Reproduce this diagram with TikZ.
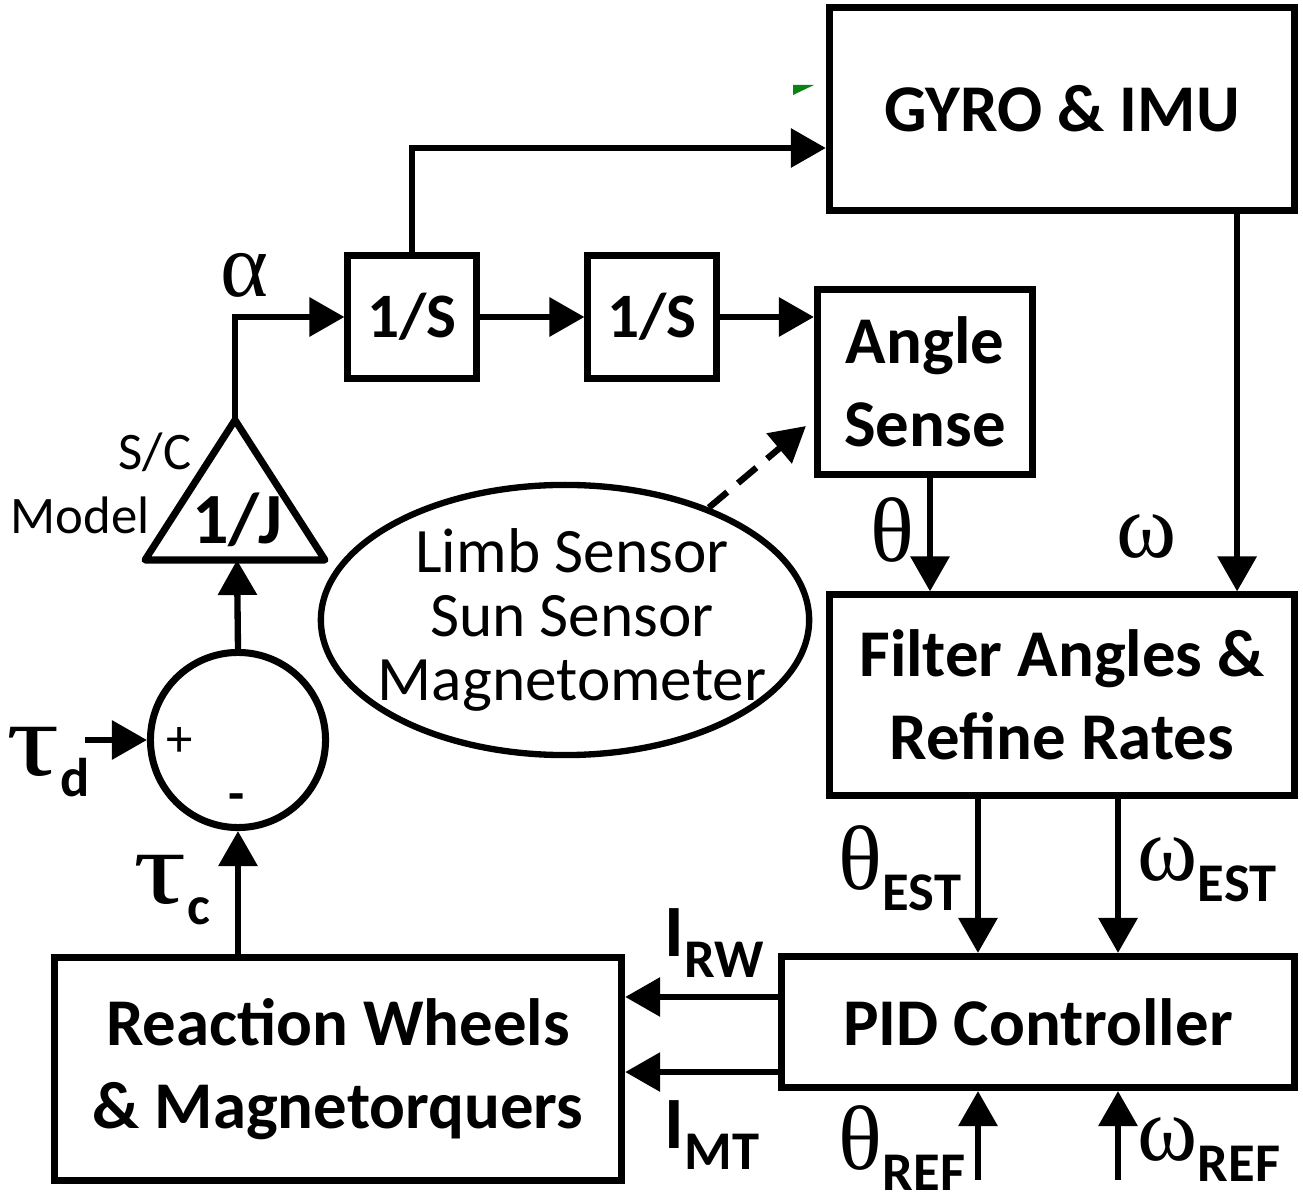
\documentclass[tikz,border=0pt]{standalone}
\usepackage{fontspec}
\setmainfont{Carlito}
\newfontfamily\greekfont{Liberation Serif}
\usetikzlibrary{arrows.meta, positioning, calc, shapes.geometric}
\definecolor{markgreen}{RGB}{10,130,20}

\newcommand{\gsym}[1]{{\fontsize{26}{26}\selectfont\greekfont #1}}
\newcommand{\gtau}{{\fontsize{26}{26}\selectfont\greekfont\scalebox{1.45}[1.15]{τ}}}
\newcommand{\lowsub}[1]{\raisebox{-6pt}{\fontsize{15.5}{15.5}\selectfont\bfseries #1}}

\begin{document}
\begin{tikzpicture}[x=0.01cm, y=-0.01cm,
  blk/.style={draw, line width=2pt, font=\fontsize{19}{23.5}\selectfont\bfseries, align=center, inner sep=0pt},
  arr/.style={line width=1.8pt, -{Triangle[length=0.35cm, width=0.38cm]}},
  lbl/.style={inner sep=0pt}]
  \useasboundingbox (0,0) rectangle (1303,1201);

  % Blocks
  \node[blk, minimum width=4.65cm, minimum height=2.02cm] (gyro) at (1062,109) {GYRO \& IMU};
  \node[blk, minimum width=1.28cm, minimum height=1.23cm, font=\fontsize{18}{18}\selectfont\bfseries] (int1) at (412,317) {1/S};
  \node[blk, minimum width=1.28cm, minimum height=1.23cm, font=\fontsize{18}{18}\selectfont\bfseries] (int2) at (652,317) {1/S};
  \node[blk, minimum width=2.15cm, minimum height=1.85cm] (ang) at (925,382) {Angle\\Sense};
  \node[blk, minimum width=4.65cm, minimum height=2.00cm] (filt) at (1062,695) {Filter Angles \&\\Refine Rates};
  \node[blk, minimum width=5.13cm, minimum height=1.31cm] (pid) at (1038,1022) {PID Controller};
  \node[blk, minimum width=5.67cm, minimum height=2.22cm] (act) at (338,1069) {Reaction Wheels\\\& Magnetorquers};

  % S/C model gain
  \coordinate (jtop) at (235,420);
  \coordinate (jbase) at (237,560);
  \draw[line width=2pt, line join=round] (145,560) -- (jtop) -- (325,560) -- cycle;
  \node[lbl, font=\fontsize{20.5}{20.5}\selectfont\bfseries] (gain) at (237,520) {1/J};
  \node[lbl, font=\fontsize{15}{15}\selectfont] (scl) at (155,452) {S/C};
  \node[lbl, font=\fontsize{15}{15}\selectfont] (model) at (80,515) {Model};

  % Summing junction
  \node[draw, circle, line width=2pt, minimum size=1.75cm, inner sep=0pt] (sum) at (238,740) {};
  \node[lbl, font=\fontsize{15}{15}\selectfont] (plus) at (180,742) {+};
  \node[lbl, font=\fontsize{15}{15}\selectfont\bfseries] (minus) at (237,803) {-};

  % Sensors
  \node[draw, ellipse, line width=1.8pt, minimum width=4.88cm, minimum height=2.70cm] (sens) at (565,620) {};
  \node[lbl, align=center, font=\fontsize{18}{18.3}\selectfont] (senstxt) at (572,620) {Limb Sensor\\Sun Sensor\\Magnetometer};
  \fill[markgreen] (793,85) -- (814,85) -- (793,95) -- cycle;

  % Connectors
  \draw[arr] (jtop) |- (int1.west);
  \draw[arr] (int1) -- (int2);
  \draw[arr] (int2.east) -- (int2.east -| ang.west);
  \draw[arr] (int1.north) |- ([yshift=-0.39cm]gyro.west);
  \draw[arr, dash pattern=on 0.24cm off 0.14cm] (sens.38) -- ([xshift=-0.08cm, yshift=-0.44cm]ang.west);
  \draw[arr] ([xshift=0.05cm]ang.south) -- ([xshift=0.05cm]ang.south |- filt.north);
  \draw[arr] ([xshift=1.75cm]gyro.south) -- ([xshift=1.75cm]gyro.south |- filt.north);
  \draw[arr] ([xshift=-0.84cm]filt.south) -- ([xshift=-0.84cm]filt.south |- pid.north);
  \draw[arr] ([xshift=0.56cm]filt.south) -- ([xshift=0.56cm]filt.south |- pid.north);
  \coordinate (thref) at (978,1180);
  \coordinate (wref) at (1118,1180);
  \draw[arr] (thref) -- (thref |- pid.south);
  \draw[arr] (wref) -- (wref |- pid.south);
  \draw[arr] ([yshift=0.25cm]pid.west) -- ([yshift=0.25cm]pid.west -| act.east);
  \draw[arr] ([yshift=-0.50cm]pid.west) -- ([yshift=-0.50cm]pid.west -| act.east);
  \draw[arr] (sum.north) -- (jbase);
  \draw[arr] (sum.south |- act.north) -- (sum.south);
  \coordinate (tdin) at (85,740);
  \draw[arr] (tdin) -- (sum.west);

  % Signal labels
  \node[lbl] (alpha) at (244,275) {\gsym{α}};
  \node[lbl] (theta) at (892,530) {\gsym{θ}};
  \node[lbl] (omega) at (1147,537) {\gsym{ω}};
  \node[lbl] (thest) at (900,868) {\gsym{θ}\lowsub{EST}};
  \node[lbl] (west) at (1207,870) {\gsym{ω}\lowsub{EST}};
  \node[lbl] (threfl) at (902,1148) {\gsym{θ}\lowsub{REF}};
  \node[lbl] (wrefl) at (1209,1150) {\gsym{ω}\lowsub{REF}};
  \node[lbl] (irw) at (714,943) {{\fontsize{21}{21}\selectfont\bfseries I}\lowsub{RW}};
  \node[lbl] (imt) at (712,1135) {{\fontsize{21}{21}\selectfont\bfseries I}\lowsub{MT}};
  \node[lbl] (taud) at (48,762) {\gtau\lowsub{d}};
  \node[lbl] (tauc) at (172,890) {\gtau\lowsub{c}};
\end{tikzpicture}
\end{document}
